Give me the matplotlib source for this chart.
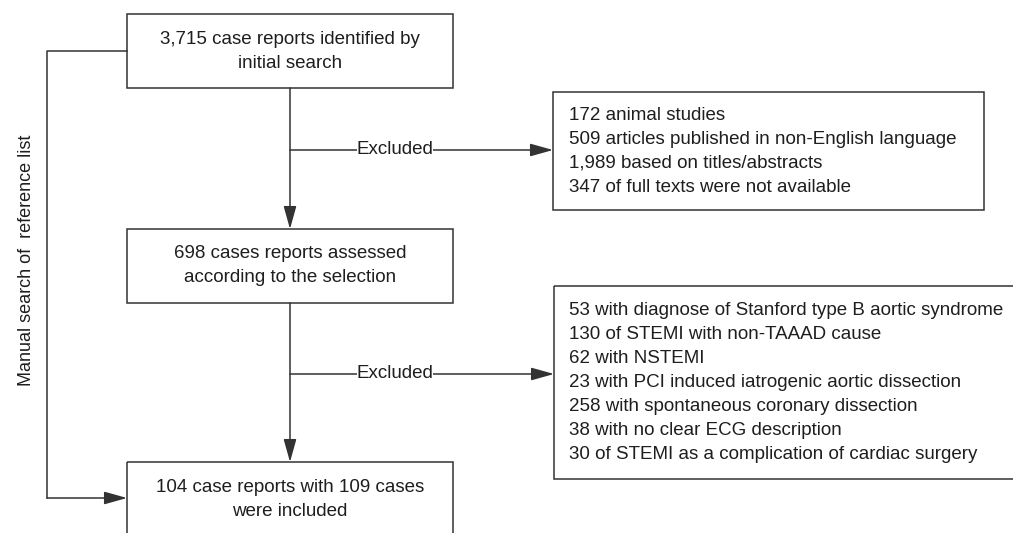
import matplotlib.pyplot as plt
from matplotlib.patches import Rectangle

plt.rcParams['font.family'] = ['Liberation Sans', 'DejaVu Sans']

# Texts of the flow chart
main_boxes = [
    ["3,715 case reports identified by", "initial search"],
    ["698 cases reports assessed", "according to the selection"],
    ["104 case reports with 109 cases", "were included"],
]
excluded_1 = [
    "172 animal studies",
    "509 articles published in non-English language",
    "1,989 based on titles/abstracts",
    "347 of full texts were not available",
]
excluded_2 = [
    "53 with diagnose of Stanford type B aortic syndrome",
    "130 of STEMI with non-TAAAD cause",
    "62 with NSTEMI",
    "23 with PCI induced iatrogenic aortic dissection",
    "258 with spontaneous coronary dissection",
    "38 with no clear ECG description",
    "30 of STEMI as a complication of cardiac surgery",
]
side_label = "Manual search of  reference list"

line_col = '#333333'
txt_col = '#1e1e1e'
fs = 13.5
lh = 24  # line height in pixels

fig = plt.figure(figsize=(10.13, 5.33), dpi=100)
ax = fig.add_axes([0, 0, 1, 1])
ax.set_xlim(0, 1013)
ax.set_ylim(533, 0)
ax.axis('off')


def box(x0, y0, x1, y1):
    ax.add_patch(Rectangle((x0, y0), x1 - x0, y1 - y0, fill=False,
                           edgecolor=line_col, linewidth=1.1, zorder=2))


def arrow(x0, y0, x1, y1):
    ax.annotate("", xy=(x1, y1), xytext=(x0, y0),
                arrowprops=dict(arrowstyle='-|>,head_length=1.0,head_width=0.28',
                                color=line_col, lw=1.1, shrinkA=0, shrinkB=0,
                                mutation_scale=14))


# main boxes
cx = 290
main_pos = [(127, 14, 453, 88), (127, 229, 453, 303), (127, 462, 453, 545)]
for (x0, y0, x1, y1), lines in zip(main_pos, main_boxes):
    box(x0, y0, x1, y1)
    yc = (y0 + 38) if y1 > 533 else (y0 + y1) / 2
    for i, t in enumerate(lines):
        ax.text(cx, yc + (i - (len(lines) - 1) / 2) * lh, t, ha='center', va='center',
                fontsize=fs, color=txt_col)

# vertical arrows
arrow(cx, 88, cx, 229)
arrow(cx, 303, cx, 462)

# exclusion boxes
ex_pos = [(553, 92, 984, 210, 150), (554, 286, 1030, 479, 374)]
for (x0, y0, x1, y1, ya), lines in zip(ex_pos, [excluded_1, excluded_2]):
    box(x0, y0, x1, y1)
    yc = (y0 + y1) / 2
    for i, t in enumerate(lines):
        ax.text(569, yc + (i - (len(lines) - 1) / 2) * lh, t, ha='left', va='center',
                fontsize=fs, color=txt_col)
    arrow(cx, ya, x0, ya)
    ax.text(395, ya, "Excluded", ha='center', va='center', fontsize=fs, color=txt_col,
            bbox=dict(facecolor='white', edgecolor='none', pad=0.05), zorder=3)

# manual search loop
ax.plot([127, 47, 47], [51, 51, 498], color=line_col, lw=1.1)
arrow(47, 498, 127, 498)
ax.text(27, 260, side_label, rotation=90, ha='center', va='center', fontsize=13,
        color=txt_col)

fig.savefig('out.png', dpi=100)
